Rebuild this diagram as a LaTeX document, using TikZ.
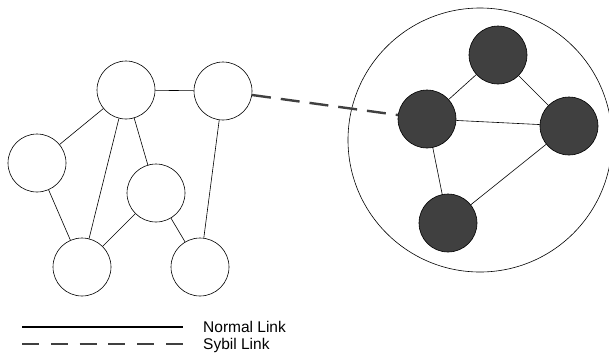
\documentclass[tikz,border=0pt]{standalone}
\usepackage{fontspec}
\setmainfont{Liberation Sans}
\usetikzlibrary{positioning}
\definecolor{sybilgray}{HTML}{404040}
\tikzstyle{honest} = [circle, draw=black, fill=white, minimum size=58pt, inner sep=0pt, line width=0.6pt]
\tikzstyle{sybil} = [circle, draw=black, fill=sybilgray, minimum size=58pt, inner sep=0pt, line width=0.6pt]
\tikzstyle{normal} = [line width=0.6pt]
\tikzstyle{attack} = [line width=2.4pt, draw=sybilgray, dash pattern=on 19pt off 10pt]
\tikzstyle{legendtxt} = [inner sep=0pt, text height=11pt, text depth=1pt]

\begin{document}
\begin{tikzpicture}[x=1pt, y=-1pt, font=\fontsize{15.5}{17}\selectfont]
    \useasboundingbox (0,0) rectangle (609,360);

    % sybil region
    \node[circle, draw=black, line width=0.6pt, minimum size=264pt, inner sep=0pt] (region) at (480,140) {};

    % honest nodes
    \node[honest] (h1) at (126,90) {};
    \node[honest] (h2) at (223,91) {};
    \node[honest] (h3) at (37,163) {};
    \node[honest] (h4) at (156,193) {};
    \node[honest] (h5) at (82,267) {};
    \node[honest] (h6) at (200,267) {};

    % sybil nodes
    \node[sybil] (s1) at (498,55) {};
    \node[sybil] (s2) at (427,119) {};
    \node[sybil] (s3) at (569,126) {};
    \node[sybil] (s4) at (448,223) {};

    % honest links
    \draw[normal] (h1) -- (h2);
    \draw[normal] (h1) -- (h3);
    \draw[normal] (h1) -- (h5);
    \draw[normal] (h1) -- (h4);
    \draw[normal] (h2) -- (h6);
    \draw[normal] (h3) -- (h5);
    \draw[normal] (h4) -- (h5);
    \draw[normal] (h4) -- (h6);

    % sybil links
    \draw[normal] (s1) -- (s2);
    \draw[normal] (s1) -- (s3);
    \draw[normal] (s2) -- (s3);
    \draw[normal] (s2) -- (s4);
    \draw[normal] (s4) -- (s3);

    % attack edge
    \draw[attack] (h2) -- (s2);

    % legend
    \coordinate (n0) at (22,327);
    \coordinate (n1) at (183,327);
    \coordinate (d0) at (22,344);
    \coordinate (d1) at (183,344);
    \draw[line width=1.8pt] (n0) -- (n1);
    \draw[line width=1.8pt, draw=sybilgray, dash pattern=on 17pt off 11.8pt] (d0) -- (d1);
    \node[legendtxt, right=20pt of n1] (normaltxt) {Normal Link};
    \node[legendtxt, right=20pt of d1] (sybiltxt) {Sybil Link};
\end{tikzpicture}
\end{document}
